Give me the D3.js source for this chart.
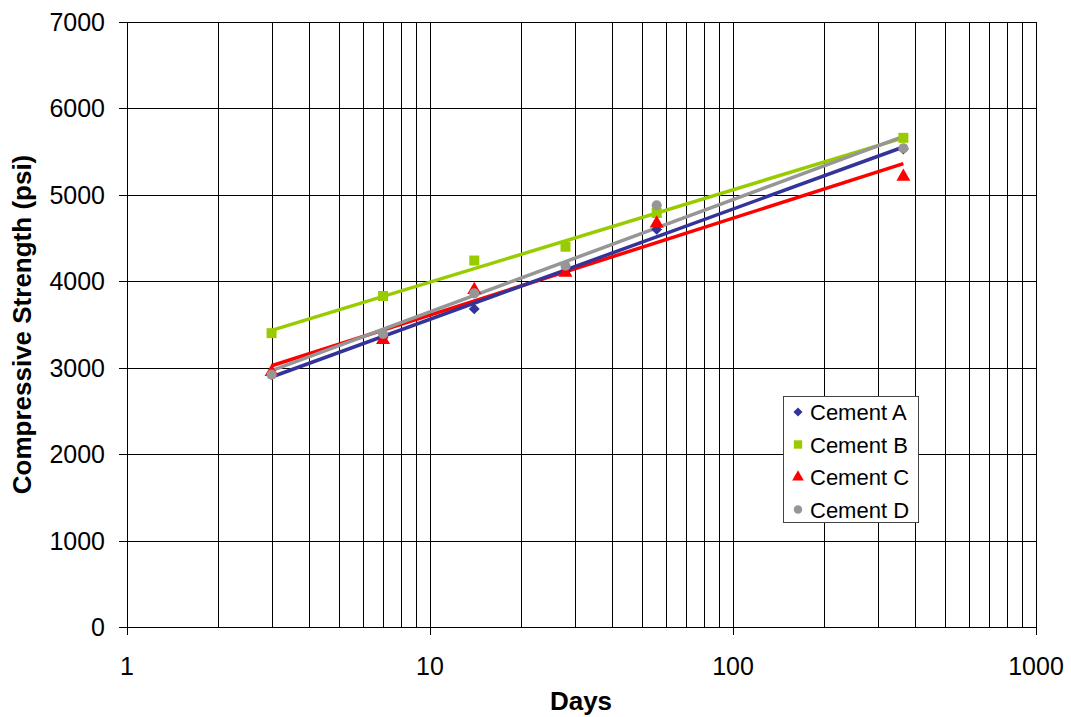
<!DOCTYPE html>
<html>
<head>
<meta charset="utf-8">
<script src="https://cdn.jsdelivr.net/npm/d3@7"></script>
<style>
  body { margin: 0; background: #fff; }
  text { font-family: "Liberation Sans", Arial, sans-serif; }
</style>
</head>
<body>
<script>
// data
var days = [3, 7, 14, 28, 56, 365];
var cementA = [2920, 3350, 3680, 4120, 4600, 5530];
var cementB = [3400, 3830, 4240, 4400, 4790, 5660];
var cementC = [2950, 3320, 3900, 4100, 4670, 5210];
var cementD = [2920, 3390, 3860, 4180, 4880, 5540];
var seriesNames = ["Cement A", "Cement B", "Cement C", "Cement D"];
var yTicks = [0, 1000, 2000, 3000, 4000, 5000, 6000, 7000];
var xTicks = [1, 10, 100, 1000];

var width = 1071, height = 717;
var plotLeft = 127, plotRight = 1036, plotTop = 22, plotBottom = 627;

var svg = d3.select("body").append("svg")
    .attr("width", width)
    .attr("height", height);

var x = d3.scaleLog().domain([1, 1000]).range([plotLeft, plotRight]);
var y = d3.scaleLinear().domain([0, 7000]).range([plotBottom, plotTop]);

var colors = ["#333399", "#99CC00", "#FF0000", "#969696"];
var symbols = [d3.symbolDiamond2, d3.symbolSquare, d3.symbolTriangle, d3.symbolCircle];
var symSizes = [75, 100, 85, 80];

// grid lines
var minor = [];
for (var p = 1; p < 1000; p *= 10) {
  for (var k = 1; k < 10; k++) minor.push(p * k);
}
minor.push(1000);

svg.append("g").selectAll("line")
    .data(minor)
    .enter().append("line")
    .attr("x1", function(d) { return Math.round(x(d)) + 0.5; })
    .attr("x2", function(d) { return Math.round(x(d)) + 0.5; })
    .attr("y1", plotTop)
    .attr("y2", plotBottom)
    .style("stroke", "#000")
    .style("stroke-width", 1);

svg.append("g").selectAll("line")
    .data(yTicks)
    .enter().append("line")
    .attr("x1", plotLeft - 8)
    .attr("x2", plotRight)
    .attr("y1", function(d) { return Math.round(y(d)) + 0.5; })
    .attr("y2", function(d) { return Math.round(y(d)) + 0.5; })
    .style("stroke", "#000")
    .style("stroke-width", 1);

// x tick marks
svg.append("g").selectAll("line")
    .data(xTicks)
    .enter().append("line")
    .attr("x1", function(d) { return Math.round(x(d)) + 0.5; })
    .attr("x2", function(d) { return Math.round(x(d)) + 0.5; })
    .attr("y1", plotBottom)
    .attr("y2", plotBottom + 8)
    .style("stroke", "#000");

// tick labels
svg.append("g").selectAll("text")
    .data(yTicks)
    .enter().append("text")
    .attr("x", 105)
    .attr("y", function(d) { return y(d) + 9; })
    .attr("text-anchor", "end")
    .style("font-size", "25px")
    .text(function(d) { return d; });

svg.append("g").selectAll("text")
    .data(xTicks)
    .enter().append("text")
    .attr("x", function(d) { return x(d); })
    .attr("y", 675)
    .attr("text-anchor", "middle")
    .style("font-size", "25px")
    .text(function(d) { return d; });

// axis titles
svg.append("text")
    .attr("x", 581)
    .attr("y", 710)
    .attr("text-anchor", "middle")
    .style("font-size", "26px")
    .style("font-weight", "bold")
    .text("Days");

svg.append("text")
    .attr("transform", "translate(31," + (plotTop + plotBottom) / 2 + ") rotate(-90)")
    .attr("text-anchor", "middle")
    .style("font-size", "26px")
    .style("font-weight", "bold")
    .text("Compressive Strength (psi)");

// logarithmic trendlines (least squares on ln(days))
function logFit(xs, ys) {
  var lx = xs.map(Math.log);
  var mx = d3.mean(lx), my = d3.mean(ys);
  var sxy = d3.sum(lx, function(v, i) { return (v - mx) * (ys[i] - my); });
  var sxx = d3.sum(lx, function(v) { return (v - mx) * (v - mx); });
  var b = sxy / sxx, a = my - b * mx;
  return function(d) { return a + b * Math.log(d); };
}

var allSeries = [cementA, cementB, cementC, cementD];
var drawOrder = [1, 2, 0, 3];

drawOrder.forEach(function(i) {
  var f = logFit(days, allSeries[i]);
  var ends = [days[0], days[days.length - 1]];
  svg.append("line")
      .attr("x1", x(ends[0]))
      .attr("y1", y(f(ends[0])))
      .attr("x2", x(ends[1]))
      .attr("y2", y(f(ends[1])))
      .style("stroke", colors[i])
      .style("stroke-width", 3.5);
});

// markers
allSeries.forEach(function(vals, i) {
  svg.append("g").selectAll("path")
      .data(vals)
      .enter().append("path")
      .attr("d", d3.symbol().type(symbols[i]).size(symSizes[i]))
      .attr("transform", function(d, j) { return "translate(" + x(days[j]) + "," + y(d) + ")"; })
      .style("fill", colors[i]);
});

// legend
var legend = svg.append("g").attr("transform", "translate(783,396)");
legend.append("rect")
    .attr("x", 0.5).attr("y", 0.5)
    .attr("width", 135).attr("height", 126)
    .style("fill", "#fff")
    .style("stroke", "#444");

seriesNames.forEach(function(name, i) {
  var ly = 16 + i * 32.5;
  legend.append("path")
      .attr("d", d3.symbol().type(symbols[i]).size(symSizes[i] * 0.7))
      .attr("transform", "translate(15," + ly + ")")
      .style("fill", colors[i]);
  legend.append("text")
      .attr("x", 27)
      .attr("y", ly + 8)
      .style("font-size", "22px")
      .text(name);
});
</script>
</body>
</html>
